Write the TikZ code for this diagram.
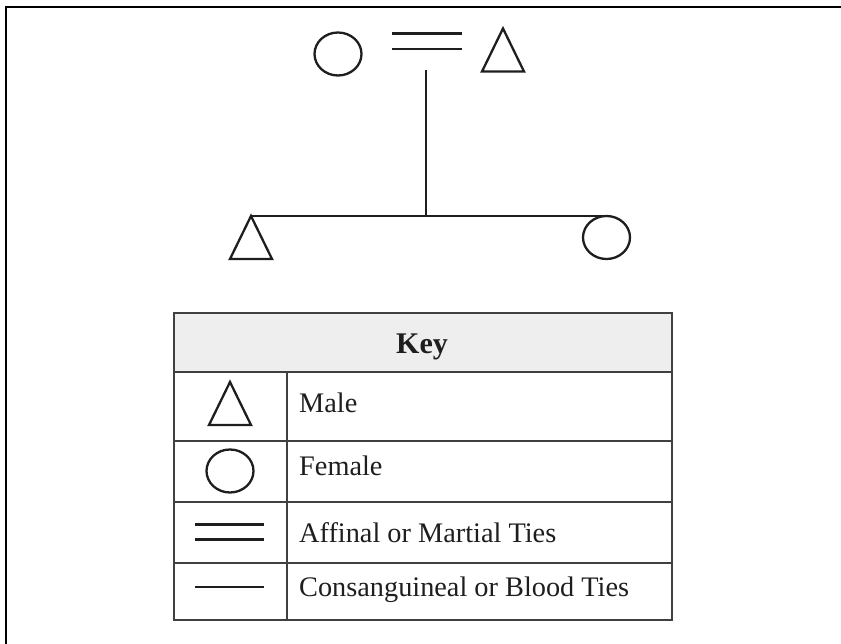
\documentclass[tikz,border=0pt]{standalone}
\usepackage{fontspec}
\setmainfont{Liberation Serif}
\usetikzlibrary{shapes.geometric}
\definecolor{ink}{HTML}{1E1E1E}
\definecolor{tabline}{HTML}{404040}
\definecolor{keyfill}{HTML}{EEEEEE}
\tikzset{
  symline/.style={draw=ink, line width=2.3pt, line join=miter},
  female/.style={ellipse, symline, minimum width=47pt, minimum height=43pt, inner sep=0pt, outer sep=0pt},
  rule/.style={draw=tabline, line width=1.6pt},
  label/.style={anchor=base west, inner sep=0pt, text=ink, font=\fontsize{28.3}{28.3}\selectfont},
  pics/male/.style={code={
    \draw[symline] (0,0) -- (-21,43) -- (21,43) -- cycle;
    \coordinate (-apex) at (0,0);
  }}
}
\begin{document}
\begin{tikzpicture}[x=1pt,y=-1pt]
\useasboundingbox (0,0) rectangle (841,644);
% frame
\draw[line width=2.7pt] (6,644) -- (6,7) -- (841,7);
% parents
\node[female] (mother) at (338,54) {};
\pic (father) at (503,28.5) {male};
\coordinate (mtL1) at (392,33.5);
\coordinate (mtR1) at (462,33.5);
\coordinate (mtL2) at (392,49);
\coordinate (mtR2) at (462,49);
\draw[symline] (mtL1) -- (mtR1);
\draw[symline] (mtL2) -- (mtR2);
\coordinate (desc) at (426,70);
% children
\pic (son) at (251,216) {male};
\node[female] (daughter) at (606.5,237.5) {};
\draw[symline] (son-apex) -- (son-apex -| daughter.north);
\draw[symline] (desc) -- (desc |- son-apex);
% key table
\draw[rule, fill=keyfill] (174,313) rectangle (672,372);
\draw[rule] (174,372) rectangle (672,620);
\coordinate (r1) at (174,441);
\coordinate (r2) at (174,502);
\coordinate (r3) at (174,563);
\draw[rule] (r1) -- (r1 -| 672,0);
\draw[rule] (r2) -- (r2 -| 672,0);
\draw[rule] (r3) -- (r3 -| 672,0);
\draw[rule] (287,372) -- (287,620);
\node[anchor=base, inner sep=0pt, text=ink, font=\bfseries\fontsize{30}{30}\selectfont] (keyhead) at (422,353.5) {Key};
\pic (keymale) at (230,382) {male};
\node[female] (keyfemale) at (230,471) {};
\coordinate (a1) at (195,524.5);
\coordinate (a2) at (264,524.5);
\coordinate (a3) at (195,539.5);
\coordinate (a4) at (264,539.5);
\draw[symline] (a1) -- (a2);
\draw[symline] (a3) -- (a4);
\coordinate (b1) at (195,587);
\coordinate (b2) at (264,587);
\draw[symline] (b1) -- (b2);
\node[label] (lmale) at (299,412.7) {Male};
\node[label] (lfemale) at (299,475.7) {Female};
\node[label] (laffinal) at (299,542.3) {Affinal or Martial Ties};
\node[label] (lblood) at (299,596.7) {Consanguineal or Blood Ties};
\end{tikzpicture}
\end{document}
